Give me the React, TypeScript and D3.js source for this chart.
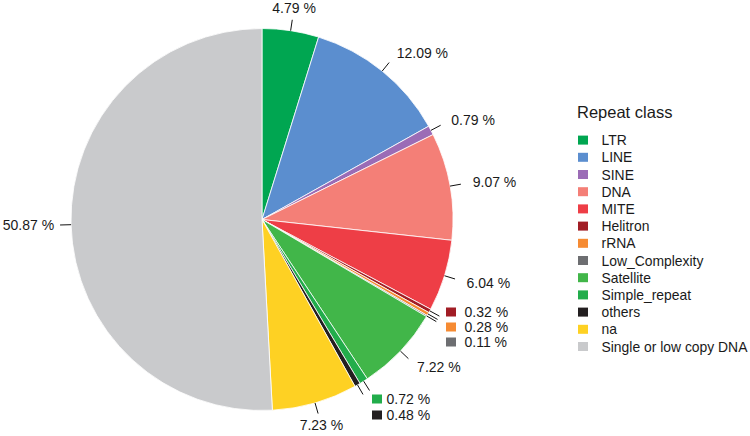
import React from "react";
import * as d3 from "d3";

const categories = [
  "LTR",
  "LINE",
  "SINE",
  "DNA",
  "MITE",
  "Helitron",
  "rRNA",
  "Low_Complexity",
  "Satellite",
  "Simple_repeat",
  "others",
  "na",
  "Single or low copy DNA",
];
const percentages = [4.79, 12.09, 0.79, 9.07, 6.04, 0.32, 0.28, 0.11, 7.22, 0.72, 0.48, 7.23, 50.87];
const colors = [
  "#00a651",
  "#5b8ecf",
  "#9b6cb6",
  "#f47f77",
  "#ee3e46",
  "#a11d25",
  "#f68b33",
  "#6d6e71",
  "#41b649",
  "#22ad4b",
  "#231f20",
  "#fed123",
  "#c9cacc",
];
const legendTitle = "Repeat class";
const swatchLabelGroups = [
  ["Helitron", "rRNA", "Low_Complexity"],
  ["Simple_repeat", "others"],
];

const FONT = "'Liberation Sans', Arial, Helvetica, sans-serif";

export default function App() {
  const W = 750;
  const H = 436;
  const cx = 262;
  const cy = 219.5;
  const r = 191;

  const pie = d3
    .pie<number>()
    .sort(null)
    .value((d) => d)
    .startAngle(0)
    .endAngle(2 * Math.PI);
  const arcs = pie(percentages);
  const arcGen = d3.arc<d3.PieArcDatum<number>>().innerRadius(0).outerRadius(r);

  const pt = (a: number, rr: number): [number, number] => [Math.sin(a) * rr, -Math.cos(a) * rr];
  const fmt = (v: number) => `${v.toFixed(2)} %`;

  const grouped = new Set(swatchLabelGroups.flat());
  const groupLayout = [
    { x: 446, y: 312, step: 15, gap: 8.5 },
    { x: 372, y: 399, step: 16, gap: 4.5 },
  ];

  const legendScale = d3
    .scaleBand<string>()
    .domain(categories)
    .range([131.5, 131.5 + 17.2 * categories.length]);

  const labelSize = 14;

  return (
    <svg
      width={W}
      height={H}
      style={{ position: "absolute", left: 0, top: 0, background: "#fff" }}
      fontFamily={FONT}
    >
      <g transform={`translate(${cx},${cy})`}>
        {arcs.map((a, i) => (
          <path key={i} d={arcGen(a) || ""} fill={colors[i]} stroke="#fff" strokeWidth={0.8} />
        ))}
        {arcs.map((a, i) => {
          const mid = (a.startAngle + a.endAngle) / 2;
          const [x1, y1] = pt(mid, r);
          const [x2, y2] = pt(mid, r + 11);
          return <line key={"t" + i} x1={x1} y1={y1} x2={x2} y2={y2} stroke="#111" strokeWidth={1} />;
        })}
        {arcs.map((a, i) => {
          if (grouped.has(categories[i])) return null;
          const mid = (a.startAngle + a.endAngle) / 2;
          const s = Math.sin(mid);
          const [lx, ly] = pt(mid, s < -0.3 ? r + 17 : r + 23);
          let anchor: "start" | "middle" | "end" = "start";
          if (Math.abs(s) < 0.3) anchor = "middle";
          else if (s < 0) anchor = "end";
          return (
            <text
              key={"l" + i}
              x={lx}
              y={ly}
              textAnchor={anchor}
              dominantBaseline="central"
              fontSize={labelSize}
              fill="#1a1a1a"
            >
              {fmt(percentages[i])}
            </text>
          );
        })}
      </g>
      {swatchLabelGroups.map((grp, gi) => {
        const L = groupLayout[gi];
        return (
          <g key={"g" + gi}>
            {grp.map((name, k) => {
              const i = categories.indexOf(name);
              const yc = L.y + k * L.step;
              return (
                <g key={name}>
                  <rect x={L.x} y={yc - 4.5} width={10} height={9} fill={colors[i]} />
                  <text
                    x={L.x + 10 + L.gap}
                    y={yc}
                    dominantBaseline="central"
                    fontSize={labelSize}
                    fill="#1a1a1a"
                  >
                    {fmt(percentages[i])}
                  </text>
                </g>
              );
            })}
          </g>
        );
      })}
      <g>
        <text x={577} y={112} dominantBaseline="central" fontSize={16.5} fill="#1a1a1a">
          {legendTitle}
        </text>
        {categories.map((c, i) => {
          const yc = (legendScale(c) || 0) + legendScale.bandwidth() / 2;
          return (
            <g key={"lg" + i}>
              <rect x={578} y={yc - 4.5} width={10} height={9} fill={colors[i]} />
              <text x={601.5} y={yc} dominantBaseline="central" fontSize={13.9} fill="#1a1a1a">
                {c}
              </text>
            </g>
          );
        })}
      </g>
    </svg>
  );
}
